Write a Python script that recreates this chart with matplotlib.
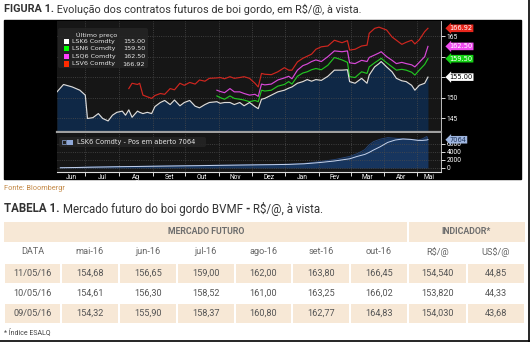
import numpy as np
import pandas as pd
import matplotlib.pyplot as plt
from matplotlib.patches import Rectangle, FancyBboxPatch

plt.rcParams['font.family'] = ['Roboto', 'DejaVu Sans']

# Futures prices, R$/@ (NaN before each contract starts trading)
nan = np.nan
dates = ["2015-06-05", "2015-06-11", "2015-06-19", "2015-06-26",
         "2015-07-01", "2015-07-03", "2015-07-08", "2015-07-13", "2015-07-17", "2015-07-22", "2015-07-26", "2015-07-30",
         "2015-08-04", "2015-08-07", "2015-08-10", "2015-08-13", "2015-08-18", "2015-08-20", "2015-08-23", "2015-08-27", "2015-08-31",
         "2015-09-03", "2015-09-08", "2015-09-12", "2015-09-17", "2015-09-21", "2015-09-26", "2015-09-30",
         "2015-10-05", "2015-10-10", "2015-10-14", "2015-10-19", "2015-10-23", "2015-10-30",
         "2015-11-02", "2015-11-06", "2015-11-11", "2015-11-15", "2015-11-20", "2015-11-24", "2015-11-29",
         "2015-12-04", "2015-12-07", "2015-12-10", "2015-12-13", "2015-12-19", "2015-12-25", "2015-12-31",
         "2016-01-04", "2016-01-07", "2016-01-12", "2016-01-17", "2016-01-21", "2016-01-25", "2016-01-29",
         "2016-02-03", "2016-02-09", "2016-02-15", "2016-02-22", "2016-02-27", "2016-02-29",
         "2016-03-05", "2016-03-11", "2016-03-16", "2016-03-18", "2016-03-23", "2016-03-27", "2016-03-29",
         "2016-04-03", "2016-04-08", "2016-04-12", "2016-04-17", "2016-04-21", "2016-04-26", "2016-04-29",
         "2016-05-03", "2016-05-08", "2016-05-11"]

lsk6 = [151.4, 153.2, 152.6, 151.8,
        150.6, 144.9, 145.1, 146.1, 144.9, 144.3, 145.7, 146.4,
        146.7, 145.7, 147.0, 145.2, 146.7, 146.4, 146.1, 146.4, 146.1,
        147.8, 148.8, 149.3, 148.3, 149.4, 148.0, 148.8,
        149.3, 147.9, 147.5, 148.3, 148.8, 149.0,
        148.6, 148.8, 148.8, 148.3, 148.8, 148.0, 148.8,
        147.8, 147.3, 149.6, 149.8, 150.6, 151.4, 151.8,
        152.3, 152.6, 153.5, 153.9, 154.4, 154.0, 154.4,
        154.2, 155.2, 156.7, 156.7, 156.8, 153.9,
        153.5, 154.7, 153.5, 155.5, 157.5, 158.3, 158.8,
        157.5, 156.3, 154.7, 154.1, 153.9, 153.0, 151.8,
        153.0, 153.5, 155.00]

lsn6 = [nan] * 33 + [
        150.4,
        150.0, 149.6, 150.4, 149.8, 149.6, 149.4, 149.0,
        149.3, 149.0, 151.8, 151.6, 151.8, 152.8, 153.2,
        153.9, 153.3, 155.2, 156.0, 156.3, 156.8, 157.1,
        156.8, 157.9, 159.8, 159.2, 158.6, 155.1,
        154.9, 156.3, 155.9, 157.5, 158.5, 159.2, 159.6,
        158.5, 157.5, 156.7, 156.9, 156.7, 156.2, 155.5,
        156.7, 158.1, 159.50]

lsq6 = [nan] * 33 + [
        151.8,
        151.5, 151.2, 152.2, 151.4, 151.4, 151.0, 150.6,
        150.8, 150.3, 153.3, 153.1, 153.3, 154.3, 154.8,
        155.2, 154.6, 156.7, 157.8, 158.2, 158.8, 159.2,
        158.8, 160.0, 161.4, 161.2, 161.4, 158.5,
        158.3, 159.1, 158.8, 159.8, 160.4, 160.9, 161.2,
        160.0, 159.1, 158.3, 158.6, 158.3, 158.0, 157.5,
        158.6, 160.0, 162.50]

lsv6 = [nan] * 14 + [
        152.2, 153.5, 153.2, 153.5, 150.6, 150.2, 149.8,
        150.5, 151.0, 150.8, 152.2, 151.9, 153.5, 153.0,
        153.7, 153.3, 154.3, 154.0, 154.7, 154.8,
        154.9, 154.6, 155.1, 154.7, 154.9, 155.1, 154.7,
        153.5, 152.6, 155.9, 155.7, 155.6, 156.3, 157.3,
        156.7, 156.7, 158.7, 159.6, 160.1, 160.6, 161.8,
        162.4, 162.6, 164.0, 163.4, 163.9, 161.6,
        161.8, 162.6, 162.8, 165.7, 166.9, 167.2, 167.0,
        166.5, 164.8, 164.0, 163.0, 163.5, 164.0, 163.1,
        164.1, 166.1, 166.92]

# LSK6 open interest (contracts) and its smoothed line
oi_dates = ["2015-06-08", "2015-06-22", "2015-07-06", "2015-07-20", "2015-08-03", "2015-08-17", "2015-08-31",
            "2015-09-14", "2015-09-28", "2015-10-13", "2015-10-26", "2015-11-09", "2015-11-23", "2015-12-07",
            "2015-12-21", "2016-01-04", "2016-01-18", "2016-02-01", "2016-02-15", "2016-02-29", "2016-03-07",
            "2016-03-14", "2016-03-18", "2016-03-22", "2016-03-28", "2016-04-04", "2016-04-11", "2016-04-18",
            "2016-04-25", "2016-05-02", "2016-05-06", "2016-05-10", "2016-05-11"]
oi_values = [80, 150, 250, 300, 380, 420, 480, 540, 580, 640, 700, 740, 800, 850, 900, 980, 1150,
             1600, 2100, 2900, 3600, 4600, 5800, 6600, 7200, 7600, 7450, 7300, 7200, 7000, 7300, 7900, 7064]
oi_smooth = [60, 120, 200, 260, 330, 380, 430, 480, 530, 580, 640, 690, 740, 790, 840, 900, 1050,
             1350, 1750, 2300, 2900, 3400, 3900, 4500, 5300, 6400, 7000, 7250, 7150, 6900, 6900, 7000, 7100]

month_names = ["Jun", "Jul", "Ag", "Set", "Out", "Nov", "Dez", "Jan", "Fev", "Mar", "Abr", "Mai"]
price_ticks = [145, 150, 155, 160, 165]
price_tick_labels = ["145", "150", "", "", "165"]   # 155 and 160 sit under the value tags
oi_ticks = [0, 2000, 4000, 6000]

# Table 1
table_header = ["DATA", "mai-16", "jun-16", "jul-16", "ago-16", "set-16", "out-16", "R$/@", "US$/@"]
table_dates = ["11/05/16", "10/05/16", "09/05/16"]
futures = [[154.68, 156.65, 159.00, 162.00, 163.80, 166.45],
           [154.61, 156.30, 158.52, 161.00, 163.25, 166.02],
           [154.32, 155.90, 158.37, 160.80, 162.77, 164.83]]
indicator_brl = [154.540, 153.820, 154.030]
indicator_usd = [44.85, 44.33, 43.68]

W, H = 530, 342
fig = plt.figure(figsize=(W / 100, H / 100), dpi=100)


def px_axes(x0, y0, x1, y1, z):
    return fig.add_axes([x0 / W, 1 - y1 / H, (x1 - x0) / W, (y1 - y0) / H], zorder=z)


def pixel_space(a):
    a.set_xlim(0, W)
    a.set_ylim(H, 0)
    a.axis('off')


bg = px_axes(0, 0, W, H, 0)
pixel_space(bg)
ov = px_axes(0, 0, W, H, 5)
pixel_space(ov)
renderer = fig.canvas.get_renderer()


def rich(x, y, parts, size, color):
    for text, weight in parts:
        t = bg.text(x, y, text, fontsize=size, fontweight=weight, color=color, va='center', ha='left')
        x += t.get_window_extent(renderer).width


def br(v, nd=2):
    return f"{v:.{nd}f}".replace('.', ',')


rich(4, 9, [("FIGURA 1.", 'bold'), (" Evolução dos contratos futuros de boi gordo, em R$/@, à vista.", 'normal')],
     7.8, '#333333')

# Bloomberg panel
bg.add_patch(Rectangle((4, 20), 517, 159, color='black'))

d = pd.to_datetime(dates)
x_lo, x_hi = pd.Timestamp("2015-06-05"), pd.Timestamp("2016-05-23")
month_starts = pd.date_range("2015-07-01", "2016-05-01", freq="MS")
edges = [x_lo] + list(month_starts) + [x_hi]
month_mid = [a + (b - a) / 2 for a, b in zip(edges[:-1], edges[1:])]

ax = px_axes(57, 21, 441, 132, 1)
y_lo, y_hi = 141.6, 168.7
ax.set_facecolor('#161616')
ax.fill_between(d, lsk6, y_lo, color='#0f2846', lw=0)
ax.plot(d, lsv6, color='#d0261f', lw=0.85)
ax.plot(d, lsq6, color='#d848d8', lw=0.85)
ax.plot(d, lsn6, color='#22c422', lw=0.85)
ax.plot(d, lsk6, color='#dcdcdc', lw=0.85)
ax.set_xlim(x_lo, x_hi)
ax.set_ylim(y_lo, y_hi)
ax.set_xticks(month_starts)
ax.set_yticks(price_ticks)
ax.set_yticklabels(price_tick_labels)
ax.yaxis.tick_right()
ax.tick_params(axis='x', length=0, labelbottom=False)
ax.tick_params(axis='y', colors='white', labelsize=4.8, length=3, width=0.6, pad=1)
ax.grid(True, color='#4c4c4c', ls=':', lw=0.6)
for s in ['top', 'left']:
    ax.spines[s].set_visible(False)
ax.spines['right'].set_color('#dddddd')
ax.spines['right'].set_linewidth(0.6)
ax.spines['bottom'].set_color('#a0a0a0')
ax.spines['bottom'].set_linewidth(1.6)

tags = [(lsv6, '#e8261c', 'white'), (lsq6, '#f04cf0', 'white'),
        (lsn6, '#14d214', 'white'), (lsk6, 'white', 'black')]
for vals, fc, tc in tags:
    last = vals[-1]
    ax.text(1.022, last, f"{last:.2f}", transform=ax.get_yaxis_transform(), fontsize=4.8,
            family='DejaVu Sans', color=tc, va='center', ha='left', clip_on=False, zorder=6,
            bbox=dict(boxstyle='larrow,pad=0.12', fc=fc, ec='none'))

# open interest panel
oid = pd.to_datetime(oi_dates)
axo = px_axes(57, 133, 441, 172, 1)
axo.set_facecolor('#161616')
axo.fill_between(oid, oi_values, 0, color='#17355e', lw=0)
axo.plot(oid, oi_values, color='#27477a', lw=0.6)
axo.plot(oid, oi_smooth, color='#c4d2ec', lw=0.7)
axo.set_xlim(x_lo, x_hi)
axo.set_ylim(-1000, 8750)
axo.set_yticks(oi_ticks)
axo.yaxis.tick_right()
axo.set_xticks(month_starts, minor=True)
axo.set_xticks(month_mid)
axo.set_xticklabels(month_names)
axo.tick_params(axis='x', which='major', length=0, colors='white', labelsize=4.8, pad=1.5)
axo.tick_params(axis='x', which='minor', length=3, width=0.6, color='white')
axo.tick_params(axis='y', colors='white', labelsize=4.8, length=3, width=0.6, pad=1)
axo.grid(True, axis='x', which='minor', color='#4c4c4c', ls=':', lw=0.6)
axo.grid(True, axis='y', color='#4c4c4c', ls=':', lw=0.6)
for s in ['top', 'left']:
    axo.spines[s].set_visible(False)
axo.spines['right'].set_color('#dddddd')
axo.spines['right'].set_linewidth(0.6)
axo.spines['bottom'].set_color('#dddddd')
axo.spines['bottom'].set_linewidth(0.8)
axo.text(1.022, oi_values[-1], f"{oi_values[-1]}", transform=axo.get_yaxis_transform(), fontsize=4.8,
         family='DejaVu Sans', color='#1d3358', va='center', ha='left', clip_on=False, zorder=6,
         bbox=dict(boxstyle='larrow,pad=0.12', fc='#9fb6e0', ec='none'))

# legends
chart_font = dict(family='DejaVu Sans', fontsize=4.6, color='#e6e6e6', va='center')
ov.add_patch(FancyBboxPatch((58, 28), 90, 40, boxstyle='round,pad=0,rounding_size=2',
                            fc='#242424', ec='none', alpha=0.92))
ov.text(97, 34.5, "Último preço", ha='center', **chart_font)
series = [("LSK6 Comdty", lsk6, 'white'), ("LSN6 Comdty", lsn6, '#00ff00'),
          ("LSQ6 Comdty", lsq6, '#ff40ff'), ("LSV6 Comdty", lsv6, '#ff2a00')]
for i, (name, vals, col) in enumerate(series):
    yy = 41.2 + i * 7.6
    ov.add_patch(Rectangle((63.5, yy - 2.6), 5.5, 5.2, fc=col, ec='none'))
    ov.text(71.5, yy, name, ha='left', **chart_font)
    ov.text(145, yy, f"{vals[-1]:.2f}", ha='right', **chart_font)

ov.add_patch(FancyBboxPatch((59, 137), 147, 10, boxstyle='round,pad=0,rounding_size=2',
                            fc='#242424', ec='none', alpha=0.92))
ov.add_patch(Rectangle((62, 140), 3.5, 4, fc='none', ec='#8fa8d8', lw=0.5))
ov.add_patch(Rectangle((67, 139.5), 6, 5, fc='#8fa8d8', ec='none'))
ov.text(77, 142, f"LSK6 Comdty - Pos em aberto {oi_values[-1]}", ha='left',
        **dict(chart_font, fontsize=4.75))

bg.text(4, 188, "Fonte: Bloombergr", fontsize=5.3, color='#c48a48', va='center')

rich(4, 209, [("TABELA 1.", 'bold'), (" Mercado futuro do boi gordo BVMF ", 'normal'), ("-", 'bold'),
              (" R$/@, à vista.", 'normal')], 8.3, '#333333')

# table
tan = '#f7e8d6'
bounds = [4, 61, 119, 177, 235, 292, 350, 408, 467, 525]
bg.add_patch(Rectangle((bounds[0], 222), bounds[7] - bounds[0] - 1, 20, fc=tan, ec='none'))
bg.add_patch(Rectangle((bounds[7] + 1, 222), bounds[9] - bounds[7] - 1, 20, fc=tan, ec='none'))
bg.text((bounds[0] + bounds[7]) / 2, 232, "MERCADO FUTURO", fontsize=6.3, fontweight='bold',
        color='#6e6e6e', ha='center', va='center')
bg.text((bounds[7] + bounds[9]) / 2, 232, "INDICADOR*", fontsize=6.3, fontweight='bold',
        color='#6e6e6e', ha='center', va='center')
cx = [(a + b) / 2 for a, b in zip(bounds[:-1], bounds[1:])]
for c, lab in zip(cx, table_header):
    bg.text(c, 252, lab, fontsize=6.6, color='#666666', ha='center', va='center')

for r, day in enumerate(table_dates):
    top = 263 + r * 20
    if r % 2 == 0:
        for a, b in zip(bounds[:-1], bounds[1:]):
            bg.add_patch(Rectangle((a + 1, top + 0.5), b - a - 2, 19, fc=tan, ec='none'))
    row = [day] + [br(v) for v in futures[r]] + [br(indicator_brl[r], 3), br(indicator_usd[r])]
    for c, txt in zip(cx, row):
        bg.text(c, top + 10, txt, fontsize=6.6, color='#555555', ha='center', va='center')

bg.text(4, 332, "* Índice ESALQ", fontsize=5, color='#444444', va='center')

# frame edges
bg.plot([528.5, 528.5], [0, H], color='black', lw=1.2)
bg.plot([0, W], [340.8, 340.8], color='black', lw=1.2)

fig.savefig("out.png", dpi=100)
